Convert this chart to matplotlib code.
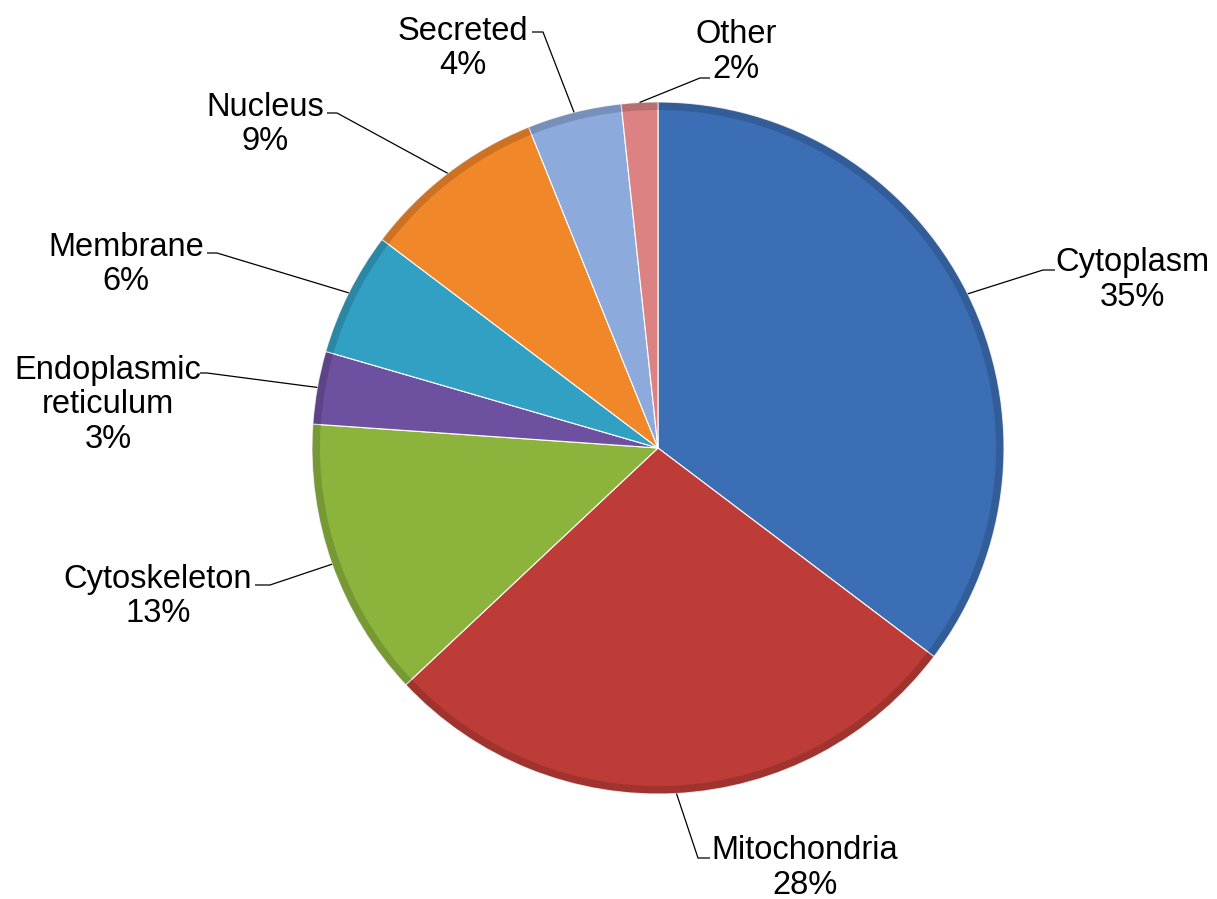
import matplotlib.pyplot as plt
from matplotlib.patches import Wedge
import numpy as np

# data (clockwise from 12 o'clock)
labels = ['Cytoplasm', 'Mitochondria', 'Cytoskeleton', 'Endoplasmic\nreticulum',
          'Membrane', 'Nucleus', 'Secreted', 'Other']
values = [35.3, 27.7, 13.1, 3.4, 5.8, 8.6, 4.4, 1.7]
colors = ['#3B6EB4', '#BE3C37', '#8CB43C', '#6E50A0',
          '#32A0C3', '#F08728', '#8CAADC', '#DC8282']

# label layout in pixel coords: text centre x, first baseline y, elbow, line end
text_pos = [(1132, 268), (805, 856), (158, 585), (108, 373),
            (126, 253), (265, 113), (463, 37), (736, 40)]
elbows = [(1043, 270), (698, 858), (270, 585), (207, 373),
          (217, 253), (337, 113), (543, 32), (700, 78)]
ends = [(1055, 270), (710, 858), (255, 585), (200, 373),
        (207, 253), (327, 113), (532, 32), (710, 78)]

W, H = 1217, 899
cx, cy, r = 658, H - 448, 346
fs = 23.5
line_px = 37.5

fig = plt.figure(figsize=(12.17, 8.99), dpi=100)
ax = fig.add_axes([0, 0, 1, 1])

wedges, _ = ax.pie(values, colors=colors, startangle=90, counterclock=False,
                   center=(cx, cy), radius=r,
                   wedgeprops=dict(edgecolor='#FFFFFF', linewidth=0.8))

# darker rim to hint at the bevel of the original
for w in wedges:
    ax.add_patch(Wedge((cx, cy), r, w.theta1, w.theta2, width=8,
                       facecolor='black', alpha=0.15, linewidth=0))

ax.set_xlim(0, W)
ax.set_ylim(0, H)
ax.set_aspect('equal')
ax.axis('off')

for w, lab, v, tp, el, en in zip(wedges, labels, values, text_pos, elbows, ends):
    th = np.deg2rad((w.theta1 + w.theta2) / 2)
    px = cx + r * np.cos(th)
    py = cy + r * np.sin(th)
    ax.plot([px, el[0], en[0]], [py, H - el[1], H - en[1]],
            color='#000000', linewidth=0.9, solid_capstyle='butt')
    txt = f'{lab}\n{round(v)}%'
    n = txt.count('\n')
    # baseline alignment uses the last line, so shift down from the first baseline
    ax.text(tp[0], H - (tp[1] + n * line_px), txt, ha='center', va='baseline',
            fontsize=fs, family='Liberation Sans', linespacing=1.15, color='#000000')

plt.savefig('out.png', dpi=100)
